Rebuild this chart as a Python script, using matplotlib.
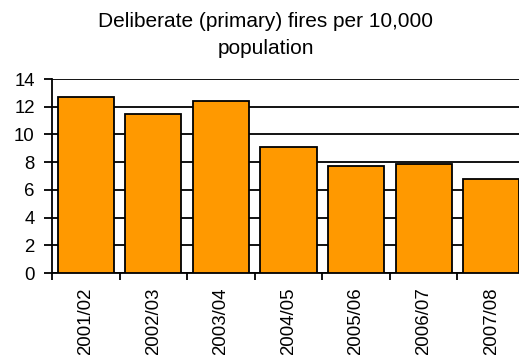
import numpy as np
import matplotlib
matplotlib.use("Agg")
import matplotlib.pyplot as plt

# fires per 10,000 population
years = ["2001/02", "2002/03", "2003/04", "2004/05", "2005/06", "2006/07", "2007/08"]
fires = [12.7, 11.5, 12.4, 9.1, 7.7, 7.9, 6.8]
yticks = [0, 2, 4, 6, 8, 10, 12, 14]

plt.rcParams['font.family'] = ['Liberation Sans', 'DejaVu Sans']

W, H = 519, 355
fig = plt.figure(figsize=(W / 100, H / 100), dpi=100)
# the plot area runs past the right edge of the picture, as in the original
ax = fig.add_axes([52 / W, 1 - 273 / H, (525 - 52) / W, (273 - 79) / H])

x = np.arange(len(years))
ax.bar(x, fires, width=0.83, color="#ff9900", edgecolor="black", linewidth=1.3, zorder=3)

ax.set_xlim(-0.5, len(years) - 0.5)
ax.set_ylim(0, 14)
ax.set_yticks(yticks)
ax.yaxis.grid(True, color="black", linewidth=1.3, zorder=0)

# category labels in the middle, ticks on the boundaries
ax.set_xticks(x)
ax.set_xticklabels(years, rotation=90)
ax.set_xticks(np.arange(len(years) + 1) - 0.5, minor=True)
ax.tick_params(axis="x", which="major", length=0, pad=10.5, labelsize=13.4)
ax.tick_params(axis="x", which="minor", length=5, width=1.3, direction="out")
ax.tick_params(axis="y", length=5.5, width=1.3, direction="out", pad=7, labelsize=13.4)

for side in ["top", "right"]:
    ax.spines[side].set_visible(False)
ax.spines["left"].set_linewidth(1.3)
ax.spines["bottom"].set_linewidth(1.3)

fig.text(266 / W, 1 - 27 / H, "Deliberate (primary) fires per 10,000",
         ha="center", va="baseline", fontsize=15)
fig.text(266 / W, 1 - 54 / H, "population", ha="center", va="baseline", fontsize=15)

fig.savefig("out.png", dpi=100)
